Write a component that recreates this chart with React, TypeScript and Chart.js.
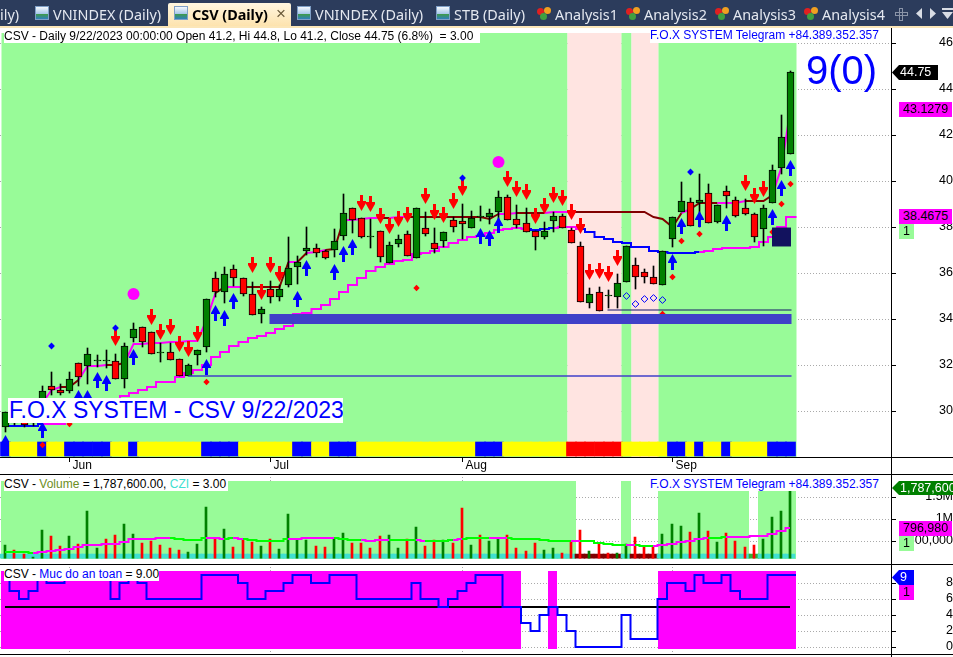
import React, { useEffect, useRef } from "react";
import { Chart, registerables } from "chart.js";

Chart.register(...registerables);

const FONT = '"Liberation Sans", Arial, sans-serif';
const GREEN_BG = "#98FB98";
const PINK_BG = "#FFE4E1";
const MAGENTA = "#FF00FF";
const DARK_RED = "#800000";
const BLUE = "#0000FF";
const CANDLE_GREEN = "#008000";
const CANDLE_RED = "#FF0000";

const monthLabels = ["Jun", "Jul", "Aug", "Sep"];
const monthBars = [7, 29, 50, 73];
const priceTicks = [30, 32, 34, 36, 38, 40, 42, 44, 46];
const volumeTicks = [500000, 1000000, 1500000];
const safetyTicks = [0, 2, 4, 6, 8];

const opens = [29.33,29.75,29.55,29.5,30.27,31.1,30.92,30.89,32.08,31.98,32.2,32.2,32.2,31.39,33.17,33.65,33.43,32.52,32.56,32.26,31.55,32.43,32.79,35.78,35.2,36.17,35.78,35.08,34.21,35.3,34.98,35.47,36.29,36.98,37.08,36.98,37,37.64,38.82,38.39,37.59,37.82,36.46,37.29,37.69,36.68,37.95,37.3,37.42,38.3,38.26,37.95,38.46,38.46,38.68,39.3,38.35,38.17,37.82,37.59,38.26,38.48,37.87,37.17,34.72,35.17,35,34.98,35.64,36.35,36.04,35.86,35.47,37.47,38.68,39.08,39.05,39.47,38.24,39.6,39.17,38.82,38.6,37.94,39.07,40.6,41.2];
const closes = [29.98,29.5,29.4,29.95,30.89,30.91,30.78,31.39,31.5,32.47,32.25,32.25,31.39,32.85,33.56,33,32.47,32.57,32.21,31.55,32,32.65,34.87,35.2,35.95,35.78,35.08,34.17,34.43,34.98,35.3,36.21,36.47,37.08,36.87,36.68,37.39,38.61,38.33,37.59,37.64,36.72,37.22,37.48,36.77,38.82,37.72,37.07,37.78,38.03,38.16,38.39,38.51,38.61,39.3,38.33,38.11,37.81,37.59,37.82,38.48,37.98,37.33,34.74,35.09,34.38,35.05,35.56,37.17,35.85,35.86,35.55,36.95,38.43,39.13,38.04,39.17,38.17,38.99,39.34,38.5,38.59,37.59,38.86,40.47,41.91,44.75];
const highs = [29.98,29.9,29.7,30.1,31.1,31.69,31.17,31.69,32.08,32.75,32.45,32.66,32.47,32.95,33.82,33.65,33.43,32.95,32.95,32.26,32.05,32.65,34.87,36.04,36.29,36.36,35.78,35.63,34.55,35.68,35.49,37.56,36.75,38.02,37.27,37.01,37.91,39.45,38.82,38.39,38.35,37.82,37.36,37.65,37.82,38.82,38.66,37.97,37.78,38.43,39.01,38.71,38.93,38.8,39.58,39.4,38.97,38.82,37.82,38.22,38.68,38.56,37.98,37.35,35.35,35.39,35.27,35.97,37.17,36.65,36.17,36.31,36.95,38.43,39.97,39.26,40.31,39.88,38.99,39.79,39.3,39.23,38.63,38.97,40.71,42.88,44.8];
const lows = [29.11,29.4,29.3,29.35,29.98,30.71,30.71,30.78,31.1,31.18,31.94,31.89,31.39,31.03,33.03,32.78,32.47,32.16,32.21,31.55,31.55,32.01,32.58,34.98,34.69,35.46,35.01,34.17,33.85,34.72,34.81,35.39,35.52,36.79,36.72,36.61,36.72,37.45,37.77,37.55,37.08,36.49,36.46,37.16,36.77,36.68,37.62,36.9,37.16,37.81,37.48,37.95,38.29,38.14,38.32,38.33,37.95,37.81,37.01,37.51,37.81,37.98,37.33,34.74,34.5,34.38,34.5,34.5,35.64,35.33,35.56,35.55,35.47,37.16,38.68,38.04,38.02,38.17,38.2,38.82,38.46,38.53,37.37,37.18,39.07,40.31,41.2];

const upperLine = [null,null,null,null,30.34,30.92,31.07,31.07,31.36,31.98,31.98,32.01,32.03,32.08,32.92,32.92,32.95,32.98,33.03,33.03,33.05,33.07,33.97,35.13,35.39,35.39,35.42,35.42,35.42,35.42,35.42,36.47,36.47,36.87,36.94,37.01,37.04,38.32,38.32,38.36,38.39,38.42,38.42,38.43,38.43,38.46,38.46,38.46,38.46,38.46,38.46,38.46,38.46,38.35,38.58,38.58,38.61,38.61,38.61,38.61,38.65,38.65,38.68,38.68,38.68,38.68,38.68,38.68,38.68,38.68,38.65,38.46,38.34,38.02,38.63,38.78,39.04,39.04,39.04,39.07,39.07,39.14,39.14,39.14,39.4,40.63,43.13];
const upperDarkRuns = [[6,7],[11,12],[23,23],[26,30],[32,32],[35,36],[41,41],[44,53],[56,58],[62,73],[75,77],[81,83]];

const lowerLine = [29.37,29.37,29.37,29.37,29.44,29.44,29.45,29.6,29.8,30,30.1,30.2,30.35,30.68,30.78,30.92,31.07,31.26,31.29,31.5,31.65,31.79,32.01,32.37,32.59,32.84,33.03,33.17,33.27,33.39,33.6,33.71,34.23,34.26,34.45,34.62,34.88,35.2,35.49,35.81,36.1,36.29,36.4,36.53,36.58,36.84,36.87,36.98,37.16,37.33,37.45,37.59,37.62,37.77,37.88,37.94,37.97,37.93,37.88,37.93,37.95,38,38.03,37.93,37.81,37.59,37.48,37.38,37.3,37.16,37.13,36.98,36.91,36.89,36.89,36.89,36.94,36.97,37.04,37.11,37.11,37.11,37.16,37.34,37.59,38,38.4675];
const lowerBlueRuns = [[0,3],[57,59],[63,75]];

const blueUpBars = [0,4,8,9,10,11,14,22,23,24,25,32,33,36,37,38,52,53,54,73,74,76,79,84,85,86];
const blueUpPrices = [28.6,29.18,30.56,30.56,31.36,31.24,32.37,31.94,34.26,34.04,34.81,34.87,36.21,36.07,36.82,37.13,37.64,37.52,38.09,36.5,38.07,38.36,38.17,38.46,39.69,40.56];
const redDownBars = [12,16,17,18,19,20,21,27,28,29,30,39,40,41,42,43,44,46,47,48,49,50,55,56,57,58,59,60,61,62,63,64,65,66,67,81,82,83];
const redDownPrices = [33.17,34.08,33.43,33.65,32.91,32.73,33.34,36.36,35.2,36.36,35.95,39.04,39,38.48,38.06,38.35,38.52,39.35,38.65,38.52,39.13,39.69,40.08,39.65,39.52,38.49,38.91,39.39,39.26,38.65,38.04,36.04,36.08,35.95,36.65,39.91,39.36,39.65];
const redDiamondBars = [4,7,22,45,72,73,74,76,84,85,86];
const redDiamondPrices = [28.53,29.45,31.27,35.36,34.23,35.85,37.42,37.71,37.81,39.01,39.88];
const blueDiamondBars = [5,12,50,75];
const blueDiamondPrices = [32.85,33.63,40.14,40.4];
const openDiamondBars = [68,69,70,71,72];
const openDiamondPrices = [35.01,34.66,34.89,34.94,34.84];
const circleBars = [14,54];
const circlePrices = [35.1,40.82];
const squareBars = [85];
const squarePrices = [37.58];

const zoneBars = [28.9,86.1];
const zonePrices = [34.01,34.01];
const thinLineBars = [20,86.1];
const thinLinePrices = [31.53,31.53];
const navyLineBars = [65.9,86.1];
const navyLinePrices = [34.39,34.39];

const stripRuns: [string, number, number][] = [["b",0,0],["y",1,3],["b",4,4],["y",5,6],["b",7,11],["y",12,13],["b",14,14],["y",15,21],["b",22,25],["y",26,31],["b",32,33],["y",34,35],["b",36,38],["y",39,51],["b",52,54],["y",55,61],["r",62,67],["y",68,72],["b",73,74],["y",75,75],["b",76,76],["y",77,78],["b",79,79],["y",80,83],["b",84,86]];
const mainBands: [number, number, string][] = [[-0.45,61.5,GREEN_BG],[61.5,67.5,PINK_BG],[67.5,68.55,GREEN_BG],[68.55,71.5,PINK_BG],[71.5,86.6,GREEN_BG]];

const volumes = [420000,300000,210000,135000,760000,620000,390000,620000,440000,1190000,350000,550000,640000,890000,670000,460000,510000,420000,350000,300000,260000,440000,1280000,575000,780000,370000,550000,480000,390000,550000,320000,1120000,550000,530000,390000,370000,575000,690000,460000,460000,350000,620000,640000,350000,550000,820000,390000,530000,530000,460000,1260000,420000,640000,510000,575000,640000,350000,280000,460000,300000,350000,230000,480000,760000,280000,440000,230000,230000,440000,600000,390000,390000,670000,890000,850000,710000,1140000,730000,480000,690000,510000,370000,420000,550000,1050000,1190000,1787600];
const volumeDirs = ["grrggrrgrg","grrggrrrrr","gggrgrrrgr","ggggrrggrr","rrggrgrrgr","rgrggrrrrg","grrrgrrggr","rrgggrgrgr","rrrgggg"].join("");
const volumeAverage = [264000,264000,250000,241000,249000,279000,302000,317000,362000,408000,423000,438000,438000,491000,544000,559000,559000,567000,575000,544000,529000,537000,567000,582000,559000,575000,552000,537000,514000,506000,514000,544000,559000,567000,575000,582000,575000,552000,537000,521000,506000,521000,529000,537000,537000,529000,506000,506000,506000,521000,559000,575000,575000,575000,575000,582000,559000,559000,559000,537000,514000,506000,506000,514000,506000,453000,431000,415000,415000,415000,400000,393000,423000,446000,476000,499000,552000,575000,575000,597000,597000,597000,620000,628000,665000,726000,796980];
const volumeLimeRuns = [[0,2],[18,21],[24,24],[26,30],[36,38],[42,44],[46,48],[50,52],[55,58],[59,61],[63,67],[69,70],[77,78]];
const volumeBands: [number, number, string][] = [[-0.45,62.5,GREEN_BG],[67.5,68.55,GREEN_BG],[71.5,81.5,GREEN_BG],[82.5,86.6,GREEN_BG]];
const volumeStripRuns: [string, number, number][] = [["t",0,62],["d",63,67],["t",68,68],["d",69,71],["t",72,81],["g",82,82],["t",83,86]];

const safety = [9,7,6,7,9,8,8,9,9,9,9,9,6,8,9,8,6,6,6,6,6,6,9,9,9,9,8,6,6,7,7,8,9,9,8,8,9,9,9,6,6,6,6,6,6,8,6,6,5,6,7,8,9,9,9,5,5,3,2,4,5,4,2,0,0,0,0,0,4,1,1,1,6,8,8,7,9,8,8,9,7,6,6,6,9,9,9];
const safetyBars = [0,86];
const safetyLevels = [5,5];
const safetyBands: [number, number, string][] = [[-0.45,56.5,MAGENTA],[59.45,60.5,MAGENTA],[71.5,86.6,MAGENTA]];

const inRuns = (i: number, runs: number[][]) => runs.some(([a, b]) => i >= a && i <= b);
const pts = (xs: number[], ys: (number | null)[]) => xs.map((x, i) => ({ x, y: ys[i] }));
const idx = (arr: unknown[]) => arr.map((_, i) => i);
const expand = (runs: [string, number, number][], map: Record<string, string>) => {
  const out: string[] = [];
  runs.forEach(([c, a, b]) => { for (let i = a; i <= b; i++) out[i] = map[c]; });
  return out;
};
const withEdge = (values: (number | null)[], edge: number) => [...pts(idx(values), values), { x: edge, y: values[values.length - 1] }];

function arrowImage(color: string, up: boolean) {
  const c = document.createElement("canvas");
  c.width = 9; c.height = 16;
  const g = c.getContext("2d")!;
  g.fillStyle = color;
  g.beginPath();
  const shape = up
    ? [[4.5,0],[9,8],[9,9],[6,9],[6,16],[3,16],[3,9],[0,9],[0,8]]
    : [[3,0],[6,0],[6,6],[9,6],[9,8],[4.5,16],[0,8],[0,6],[3,6]];
  shape.forEach(([x, y], i) => (i ? g.lineTo(x, y) : g.moveTo(x, y)));
  g.closePath();
  g.fill();
  return c;
}

function bandsPlugin(bands: [number, number, string][], hi: number, lo: number) {
  return {
    id: "bands",
    beforeDatasetsDraw(chart: any) {
      const { x, y } = chart.scales;
      const top = y.getPixelForValue(hi), bottom = y.getPixelForValue(lo);
      const ctx = chart.ctx;
      bands.forEach(([a, b, color]) => {
        const l = x.getPixelForValue(a), r = x.getPixelForValue(b);
        ctx.fillStyle = color;
        ctx.fillRect(l, top, r - l, bottom - top);
      });
    },
  };
}

const snap = (half: number) => (scale: any) => {
  if (scale.$snapped) return;
  scale.$snapped = true;
  const orig = scale.getPixelForValue.bind(scale);
  const off = scale.axis === "x" ? half : 0;
  scale.getPixelForValue = (v: any, i?: any) => Math.round(orig(v, i)) + off;
};

const noPad = (s: any) => { s.paddingLeft = 0; s.paddingRight = 0; s.paddingTop = 0; s.paddingBottom = 0; };

const xScale = (half: number, height: number, showLabels: boolean) => ({
  type: "linear",
  min: -0.581,
  max: 97.15,
  offset: false,
  border: { display: false, dash: [1, 2] },
  grid: { offset: false, color: "#aaaaaa", lineWidth: 1, tickColor: "#000", tickLength: showLabels ? 5 : 0, tickBorderDash: [], drawTicks: showLabels },
  ticks: {
    display: showLabels,
    autoSkip: false,
    maxRotation: 0,
    align: "start",
    padding: -4,
    labelOffset: 3,
    color: "#000",
    font: { family: FONT, size: 12 },
    callback: (v: number) => monthLabels[monthBars.indexOf(v)] ?? "",
  },
  afterBuildTicks: (s: any) => { s.ticks = monthBars.map((value) => ({ value })); },
  afterFit: (s: any) => { s.height = height; noPad(s); snap(half)(s); },
});

const yScale = (min: number, max: number, ticks: number[], pad: number, fmt: (v: number) => string) => ({
  type: "linear",
  position: "right",
  min,
  max,
  border: { display: false, dash: [1, 2] },
  grid: { color: "#aaaaaa", lineWidth: 1, tickColor: "#000", tickLength: 4, tickBorderDash: [] },
  ticks: {
    autoSkip: false,
    crossAlign: "far",
    padding: pad,
    color: "#000",
    font: { family: FONT, size: 12.5 },
    callback: fmt,
  },
  afterBuildTicks: (s: any) => { s.ticks = ticks.map((value) => ({ value })); },
  afterFit: (s: any) => { s.width = 61; noPad(s); snap(0)(s); },
});

const baseOptions = {
  animation: false,
  responsive: false,
  devicePixelRatio: 1,
  plugins: { legend: { display: false }, tooltip: { enabled: false } },
  events: [],
};

const scatter = (xs: number[], ys: number[], order: number, style: any, extra: any = {}) => ({
  type: "scatter",
  data: pts(xs, ys),
  order,
  pointStyle: style,
  showLine: false,
  clip: false,
  ...extra,
});

const hLine = (xs: number[], ys: number[], color: string, width: number, order: number) => ({
  type: "line",
  data: pts(xs, ys),
  borderColor: color,
  borderWidth: width,
  pointRadius: 0,
  order,
  borderCapStyle: "butt",
});

function mainConfig() {
  const bars = idx(opens);
  const bodyColors = bars.map((i) => (closes[i] > opens[i] ? CANDLE_GREEN : CANDLE_RED));
  return {
    type: "bar",
    plugins: [bandsPlugin(mainBands, 46.448, 28.013)],
    data: {
      datasets: [
        { type: "line", data: withEdge(lowerLine, 86.6), stepped: "middle", borderWidth: 2, pointRadius: 0, order: 20, borderColor: MAGENTA,
          segment: { borderColor: (c: any) => (inRuns(c.p0DataIndex, lowerBlueRuns) ? BLUE : MAGENTA) } },
        { type: "line", data: pts(bars, upperLine), borderWidth: 2, pointRadius: 0, order: 19, borderColor: MAGENTA,
          segment: { borderColor: (c: any) => (inRuns(c.p0DataIndex, upperDarkRuns) ? DARK_RED : MAGENTA) } },
        { type: "bar", data: bars.map((i) => ({ x: i, y: [lows[i], highs[i]] })), backgroundColor: "#000", barThickness: 1, grouped: false, order: 18, borderSkipped: false },
        { type: "bar", data: bars.map((i) => ({ x: i, y: [opens[i], closes[i]] })), backgroundColor: bodyColors, borderColor: "#000", borderWidth: 1, borderSkipped: false, barThickness: 7, grouped: false, order: 17 },
        scatter(blueUpBars, blueUpPrices, 16, arrowImage(BLUE, true), { pointRadius: 5 }),
        scatter(redDownBars, redDownPrices, 15, arrowImage(CANDLE_RED, false), { pointRadius: 5 }),
        { type: "bar", data: bars.map((i) => ({ x: i, y: [28.056, 28.665] })), backgroundColor: expand(stripRuns, { b: BLUE, y: "#FFFF00", r: CANDLE_RED }), barThickness: 10, grouped: false, order: 14, borderWidth: 0 },
        scatter(redDiamondBars, redDiamondPrices, 13, "rectRot", { pointRadius: 3.2, backgroundColor: CANDLE_RED, borderColor: CANDLE_RED, borderWidth: 0 }),
        scatter(blueDiamondBars, blueDiamondPrices, 12, "rectRot", { pointRadius: 3.4, backgroundColor: BLUE, borderColor: BLUE, borderWidth: 0 }),
        scatter(openDiamondBars, openDiamondPrices, 11, "rectRot", { pointRadius: 3.4, backgroundColor: "rgba(0,0,0,0)", borderColor: BLUE, borderWidth: 1 }),
        scatter(circleBars, circlePrices, 10, "circle", { pointRadius: 6, backgroundColor: MAGENTA, borderColor: MAGENTA, borderWidth: 0 }),
        hLine(zoneBars, zonePrices, "#4040C8", 10, 9),
        hLine(thinLineBars, thinLinePrices, "#4040C8", 1.5, 8),
        hLine(navyLineBars, navyLinePrices, "#14146A", 1, 7),
        scatter(squareBars, squarePrices, 6, "rect", { pointRadius: 13.4, backgroundColor: "#12125E", borderColor: "#12125E", borderWidth: 0 }),
      ],
    },
    options: {
      ...baseOptions,
      layout: { autoPadding: false, padding: { top: 6, left: 0, right: 0, bottom: 0 } },
      scales: { x: xScale(0.5, 17, true), y: yScale(28.013, 46.448, priceTicks, 36, (v: number) => String(v)) },
    },
  };
}

function volumeConfig() {
  const bars = idx(volumes);
  const fmt = (v: number) => (v === 500000 ? "500,000" : v === 1000000 ? "1M" : "1.5M");
  return {
    type: "bar",
    plugins: [bandsPlugin(volumeBands, 1870000, 109000)],
    data: {
      datasets: [
        { type: "bar", data: bars.map((i) => ({ x: i, y: [109000, 200000] })), backgroundColor: expand(volumeStripRuns, { t: "#40E0D0", d: DARK_RED, g: "#33B033" }), barThickness: 10, grouped: false, order: 5, borderWidth: 0 },
        { type: "bar", data: bars.map((i) => ({ x: i, y: [109000, volumes[i]] })), backgroundColor: bars.map((i) => (volumeDirs[i] === "g" ? CANDLE_GREEN : CANDLE_RED)), barThickness: 2, grouped: false, order: 4, borderWidth: 0 },
        { type: "line", data: pts(bars, volumeAverage), stepped: "middle", borderWidth: 2, pointRadius: 0, order: 3, borderColor: MAGENTA,
          segment: { borderColor: (c: any) => (inRuns(c.p0DataIndex, volumeLimeRuns) ? "#00FF00" : MAGENTA) } },
      ],
    },
    options: {
      ...baseOptions,
      layout: { autoPadding: false, padding: { top: 0, left: 0, right: 0, bottom: 5.5 } },
      scales: { x: xScale(0, 0, false), y: yScale(109000, 2030000, volumeTicks, 1, fmt) },
    },
  };
}

function safetyConfig() {
  return {
    type: "line",
    plugins: [bandsPlugin(safetyBands, 9.54, -0.2)],
    data: {
      datasets: [
        { type: "line", data: pts(safetyBars, safetyLevels), borderColor: "#000", borderWidth: 2, pointRadius: 0, order: 2 },
        { type: "line", data: withEdge(safety, 86.6), borderColor: BLUE, borderWidth: 2, pointRadius: 0, stepped: "middle", order: 1 },
      ],
    },
    options: {
      ...baseOptions,
      layout: { autoPadding: false, padding: 0 },
      scales: { x: xScale(0, 0, false), y: yScale(-0.8375, 10.41, safetyTicks, 43, (v: number) => String(v)) },
    },
  };
}

function ChartCanvas({ top, height, make }: { top: number; height: number; make: () => any }) {
  const ref = useRef<HTMLCanvasElement>(null);
  useEffect(() => {
    const chart = new Chart(ref.current!, make());
    return () => chart.destroy();
  }, []);
  return <canvas ref={ref} width={953} height={height} style={{ position: "absolute", left: 0, top, width: 953, height, display: "block" }} />;
}

const TABS = [
  { x: 0, text: "ily)" },
  { x: 53, text: "VNINDEX (Daily)", icon: 35 },
  { x: 192, text: "CSV (Daily)", icon: 174, active: true },
  { x: 315, text: "VNINDEX (Daily)", icon: 297 },
  { x: 454, text: "STB (Daily)", icon: 436 },
  { x: 555, text: "Analysis1", dots: 537 },
  { x: 644, text: "Analysis2", dots: 626 },
  { x: 733, text: "Analysis3", dots: 715 },
  { x: 822, text: "Analysis4", dots: 804 },
];

const abs = (left: number, top: number, width: number, height: number, extra: React.CSSProperties = {}): React.CSSProperties => ({ position: "absolute", left, top, width, height, ...extra });

function Label({ x, y, h, w, children, size = 12, color = "#000", bg = "#fff", pad = 0 }: any) {
  return (
    <div style={{ position: "absolute", left: x, top: y, height: h, width: w, lineHeight: h + "px", fontFamily: FONT, fontSize: size, color, background: bg, whiteSpace: "pre", paddingLeft: pad, overflow: "hidden" }}>
      {children}
    </div>
  );
}

function Tag({ y, h, left, right, bg, color, text, arrow, align = "left" }: any) {
  return (
    <div style={{ position: "absolute", left, top: y, width: right - left, height: h, lineHeight: h + "px", background: bg, color, fontFamily: FONT, fontSize: 12.5, whiteSpace: "pre", overflow: "hidden", textAlign: align,
      paddingLeft: arrow ? 8 : 4, boxSizing: "border-box",
      clipPath: arrow ? `polygon(0 50%, 7px 0, 100% 0, 100% 100%, 7px 100%)` : undefined }}>
      {text}
    </div>
  );
}

function TabIcon({ x }: { x: number }) {
  return (
    <div style={abs(x, 6, 14, 14, { background: "linear-gradient(#f4f8fd 0%, #a9c8ea 55%, #3f9a4a 60%, #2f7fbf 100%)", border: "1px solid #7f9fc6", boxSizing: "border-box" })} />
  );
}

function Dots({ x }: { x: number }) {
  return (
    <div style={abs(x, 7, 14, 13)}>
      <div style={abs(0, 1, 7, 7, { background: "#e02020", borderRadius: 4 })} />
      <div style={abs(7, 0, 7, 7, { background: "#f0a020", borderRadius: 4 })} />
      <div style={abs(3, 6, 7, 7, { background: "#40a040", borderRadius: 4 })} />
    </div>
  );
}

export default function App() {
  useEffect(() => { document.body.style.margin = "0"; document.body.style.background = "#fff"; }, []);
  return (
    <div style={{ position: "relative", width: 953, height: 657, overflow: "hidden", background: "#fff" }}>
      <ChartCanvas top={27} height={447} make={mainConfig} />
      <ChartCanvas top={474} height={90} make={volumeConfig} />
      <ChartCanvas top={564} height={90} make={safetyConfig} />

      <div style={abs(0, 0, 953, 26, { background: "#2C3C5C" })} />
      <div style={abs(0, 26, 953, 2, { background: "#FBE6B8" })} />
      <div style={abs(168, 3, 123, 23, { background: "linear-gradient(#fff6e0, #fde3ae)", borderRadius: "2px 2px 0 0" })} />
      {TABS.map((t) => (
        <React.Fragment key={t.text + t.x}>
          {t.icon !== undefined && <TabIcon x={t.icon} />}
          {t.dots !== undefined && <Dots x={t.dots} />}
          <div style={{ position: "absolute", left: t.x, top: 4, height: 22, lineHeight: "22px", fontFamily: '"Noto Sans", sans-serif', fontSize: 14.4, fontWeight: t.active ? 700 : 400, color: t.active ? "#000" : "#E4E8F0", whiteSpace: "pre" }}>{t.text}</div>
        </React.Fragment>
      ))}
      <div style={{ position: "absolute", left: 276, top: 4, height: 20, lineHeight: "20px", fontFamily: FONT, fontSize: 17, color: "#6b5a3a" }}>×</div>
      <div style={abs(899, 8, 4, 13, { border: "1px solid #8a94a8", boxSizing: "border-box" })} />
      <div style={abs(895, 12, 13, 4, { border: "1px solid #8a94a8", boxSizing: "border-box" })} />
      <div style={abs(916, 8, 6, 11, { background: "#d8dce4", clipPath: "polygon(100% 0, 0 50%, 100% 100%)" })} />
      <div style={abs(930, 8, 6, 11, { background: "#d8dce4", clipPath: "polygon(0 0, 100% 50%, 0 100%)" })} />
      <div style={abs(942, 8, 11, 2, { background: "#d8dce4" })} />
      <div style={abs(942, 12, 11, 7, { background: "#d8dce4", clipPath: "polygon(0 0, 100% 0, 50% 100%)" })} />

      <div style={abs(0, 457, 953, 1, { background: "#000" })} />
      <div style={abs(0, 474, 953, 1, { background: "#000" })} />
      <div style={abs(0, 564, 953, 1, { background: "#000" })} />
      <div style={abs(0, 654, 953, 1, { background: "#000" })} />
      <div style={abs(891, 28, 1, 629, { background: "#000" })} />

      <Label x={4} y={29} h={14} w={476}>CSV - Daily 9/22/2023 00:00:00 Open 41.2, Hi 44.8, Lo 41.2, Close 44.75 (6.8%)  = 3.00</Label>
      <Label x={650} y={28} h={15} w={231} color={BLUE}>F.O.X SYSTEM Telegram +84.389.352.357</Label>
      <div style={{ position: "absolute", left: 806, top: 48, lineHeight: "44px", fontFamily: FONT, fontSize: 40, color: BLUE }}>9(0)</div>
      <Label x={8} y={398} h={25} w={334} size={23} color={BLUE} pad={1}>F.O.X SYSTEM - CSV 9/22/2023</Label>

      <Label x={4} y={478} h={13} w={224}>CSV - <span style={{ color: "#6B8E23" }}>Volume</span> = 1,787,600.00, <span style={{ color: "#40E0D0" }}>CZI</span> = 3.00</Label>
      <Label x={650} y={477} h={14} w={231} color={BLUE}>F.O.X SYSTEM Telegram +84.389.352.357</Label>
      <Label x={4} y={568} h={13} w={155}>CSV - <span style={{ color: BLUE }}>Muc do an toan</span> = 9.00</Label>

      <Tag y={65} h={15} left={892} right={938} bg="#000" color="#fff" text="44.75" arrow />
      <Tag y={102} h={15} left={899} right={952} bg={MAGENTA} color="#000" text="43.1279" />
      <Tag y={209} h={15} left={899} right={952} bg={MAGENTA} color="#000" text="38.4675" />
      <Tag y={224} h={15} left={899} right={914} bg={GREEN_BG} color="#000" text="1" />
      <Tag y={481} h={14} left={892} right={953} bg={CANDLE_GREEN} color="#fff" text="1,787,600" arrow />
      <Tag y={521} h={15} left={899} right={952} bg={MAGENTA} color="#000" text="796,980" />
      <Tag y={536} h={15} left={899} right={914} bg={GREEN_BG} color="#000" text="1" />
      <Tag y={570} h={15} left={892} right={914} bg={BLUE} color="#fff" text="9" arrow />
      <Tag y={585} h={15} left={899} right={914} bg={MAGENTA} color="#000" text="1" />
    </div>
  );
}
